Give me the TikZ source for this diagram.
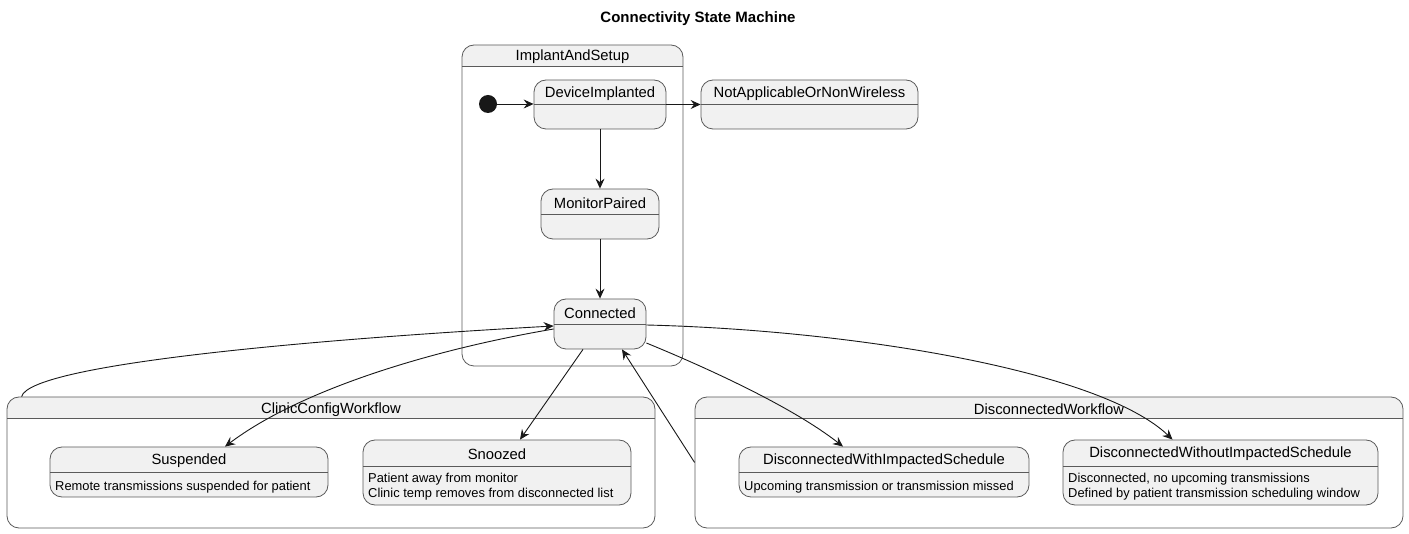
\documentclass[tikz,border=0pt]{standalone}
\usepackage{fontspec}
\setmainfont{Liberation Sans}
\usetikzlibrary{fit,arrows.meta}
\definecolor{stfill}{HTML}{F1F1F1}
\definecolor{stline}{HTML}{5A5A5A}
\definecolor{edgec}{HTML}{181818}
\begin{document}
\begin{tikzpicture}[x=1pt,y=-1pt,
  stbox/.style={draw=stline, fill=stfill, rounded corners=12pt, line width=0.8pt, inner sep=0pt},
  clbox/.style={draw=stline, rounded corners=12pt, line width=0.8pt, inner sep=0pt},
  divline/.style={draw=stline, line width=0.8pt},
  ttl/.style={font=\fontsize{14.8}{17}\selectfont, inner sep=0pt, anchor=center},
  dsc/.style={font=\fontsize{12.9}{15}\selectfont, inner sep=0pt, anchor=west, align=left},
  arr/.style={-{Stealth[length=10pt,width=9pt,inset=3.5pt]}, draw=edgec, line width=0.9pt}
]
\useasboundingbox (0,0) rectangle (1409,534);

% title
\node[font=\bfseries\fontsize{15}{18}\selectfont, inner sep=0pt] (title) at (698,18.5) {Connectivity State Machine};

% ---- clusters ----
% ImplantAndSetup
\begin{scope}
  \clip (462,45) rectangle (683,66);
  \fill[stfill, rounded corners=12pt] (462,45) rectangle (683,366);
\end{scope}
\node[clbox, fit={(462,45)(683,366)}] (ias) {};
\draw[divline] (462,66) -- (683,66);
\node[ttl] (ias-t) at (572.5,57) {ImplantAndSetup};

% ClinicConfigWorkflow
\begin{scope}
  \clip (7,397) rectangle (655,418);
  \fill[stfill, rounded corners=12pt] (7,397) rectangle (655,528);
\end{scope}
\node[clbox, fit={(7,397)(655,528)}] (ccw) {};
\draw[divline] (7,418) -- (655,418);
\node[ttl] (ccw-t) at (331,409.5) {ClinicConfigWorkflow};

% DisconnectedWorkflow
\begin{scope}
  \clip (695,397) rectangle (1403,418);
  \fill[stfill, rounded corners=12pt] (695,397) rectangle (1403,528);
\end{scope}
\node[clbox, fit={(695,397)(1403,528)}] (dw) {};
\draw[divline] (695,418) -- (1403,418);
\node[ttl] (dw-t) at (1049,409.5) {DisconnectedWorkflow};

% ---- states ----
\node[stbox, fit={(534,80)(666,129)}] (di) {};
\draw[divline] (534,104) -- (666,104);
\node[ttl] (di-t) at (600,93.5) {DeviceImplanted};

\node[stbox, fit={(701,80)(918,129)}] (na) {};
\draw[divline] (701,104) -- (918,104);
\node[ttl] (na-t) at (809.5,93.5) {NotApplicableOrNonWireless};

\node[stbox, fit={(541,189)(659,239)}] (mp) {};
\draw[divline] (541,214) -- (659,214);
\node[ttl] (mp-t) at (600,203) {MonitorPaired};

\node[stbox, fit={(554,299)(646,349)}] (con) {};
\draw[divline] (554,324) -- (646,324);
\node[ttl] (con-t) at (600,313) {Connected};

\node[stbox, fit={(50,447)(328,497)}] (sus) {};
\draw[divline] (50,472) -- (328,472);
\node[ttl] (sus-t) at (189,461) {Suspended};
\node[dsc] (sus-d) at (55,487) {Remote transmissions suspended for patient};

\node[stbox, fit={(363,440)(631,505)}] (snz) {};
\draw[divline] (363,466) -- (631,466);
\node[ttl] (snz-t) at (497,454) {Snoozed};
\node[dsc] (snz-d) at (368,486.5) {Patient away from monitor\\Clinic temp removes from disconnected list};

\node[stbox, fit={(739,447)(1029,497)}] (dwis) {};
\draw[divline] (739,472) -- (1029,472);
\node[ttl] (dwis-t) at (884,461) {DisconnectedWithImpactedSchedule};
\node[dsc] (dwis-d) at (744,487) {Upcoming transmission or transmission missed};

\node[stbox, fit={(1063,440)(1378,505)}] (dwois) {};
\draw[divline] (1063,466) -- (1378,466);
\node[ttl] (dwois-t) at (1220.5,454) {DisconnectedWithoutImpactedSchedule};
\node[dsc] (dwois-d) at (1068,486.5) {Disconnected, no upcoming transmissions\\Defined by patient transmission scheduling window};

% initial state
\node[circle, fill=edgec, minimum size=18pt, inner sep=0pt] (init) at (488,104) {};

% ---- connectors ----
\draw[arr] (init.east) -- (init.east -| di.west);
\draw[arr] (di.east) -- (na.west);
\draw[arr] (di.south) -- (mp.north);
\draw[arr] (mp.south) -- (con.north);

\coordinate (ccw-out) at ([xshift=15pt]ccw.north west);
\draw[arr] (ccw-out) .. controls (30,365) and (300,340) .. ([yshift=-2pt]con.west);

\draw[arr] ([yshift=-5pt]con.west) .. controls (430,350) and (300,390) .. ([xshift=36pt]sus.north);
\draw[arr] ([xshift=-17pt]con.south) -- ([xshift=23pt]snz.north);
\draw[arr] (dw.west) -- ([xshift=22pt]con.south);
\draw[arr] ([yshift=-19pt]con.east) .. controls (700,365) and (790,405) .. ([xshift=-41pt]dwis.north);
\draw[arr] ([yshift=-1pt]con.east) .. controls (850,330) and (1100,370) .. ([xshift=-48pt]dwois.north);
\end{tikzpicture}
\end{document}
